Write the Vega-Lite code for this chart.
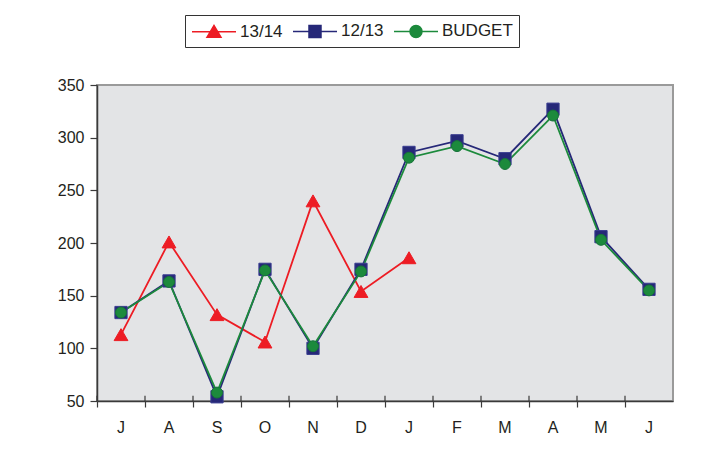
{
  "$schema": "https://vega.github.io/schema/vega-lite/v6.json",
  "width": 576,
  "height": 316,
  "autosize": {"type": "none"},
  "padding": {"left": 97, "top": 85, "right": 29, "bottom": 54},
  "background": "white",
  "config": {
    "font": "Liberation Sans",
    "view": {"fill": "#e3e4e6", "stroke": "#9a9a9a", "strokeWidth": 2},
    "axis": {"labelFont": "Liberation Sans", "labelFontSize": 16, "labelColor": "#231f20", "domainColor": "#3a3a3a", "tickColor": "#3a3a3a", "domainWidth": 1.5, "tickWidth": 1.2, "grid": false, "title": null}
  },
  "data": {
    "values": [
      {"m": "Jul", "s": "13/14", "v": 113},
      {"m": "Aug", "s": "13/14", "v": 201},
      {"m": "Sep", "s": "13/14", "v": 132},
      {"m": "Oct", "s": "13/14", "v": 106},
      {"m": "Nov", "s": "13/14", "v": 240},
      {"m": "Dec", "s": "13/14", "v": 154},
      {"m": "Jan", "s": "13/14", "v": 186},
      {"m": "Jul", "s": "12/13", "v": 134},
      {"m": "Aug", "s": "12/13", "v": 164},
      {"m": "Sep", "s": "12/13", "v": 54},
      {"m": "Oct", "s": "12/13", "v": 175},
      {"m": "Nov", "s": "12/13", "v": 100},
      {"m": "Dec", "s": "12/13", "v": 175},
      {"m": "Jan", "s": "12/13", "v": 286},
      {"m": "Feb", "s": "12/13", "v": 297},
      {"m": "Mar", "s": "12/13", "v": 280},
      {"m": "Apr", "s": "12/13", "v": 327},
      {"m": "May", "s": "12/13", "v": 206},
      {"m": "Jun", "s": "12/13", "v": 156},
      {"m": "Jul", "s": "BUDGET", "v": 134},
      {"m": "Aug", "s": "BUDGET", "v": 163},
      {"m": "Sep", "s": "BUDGET", "v": 58},
      {"m": "Oct", "s": "BUDGET", "v": 174},
      {"m": "Nov", "s": "BUDGET", "v": 102},
      {"m": "Dec", "s": "BUDGET", "v": 173},
      {"m": "Jan", "s": "BUDGET", "v": 281},
      {"m": "Feb", "s": "BUDGET", "v": 292},
      {"m": "Mar", "s": "BUDGET", "v": 275},
      {"m": "Apr", "s": "BUDGET", "v": 321},
      {"m": "May", "s": "BUDGET", "v": 203},
      {"m": "Jun", "s": "BUDGET", "v": 155}
    ]
  },
  "encoding": {
    "x": {
      "field": "m",
      "type": "ordinal",
      "sort": ["Jul", "Aug", "Sep", "Oct", "Nov", "Dec", "Jan", "Feb", "Mar", "Apr", "May", "Jun"],
      "scale": {"type": "band", "paddingInner": 0, "paddingOuter": 0},
      "axis": {"labelExpr": "substring(datum.label, 0, 1)", "labelAngle": 0, "ticks": true, "tickSize": 6, "bandPosition": 0, "labelPadding": 12}
    },
    "y": {
      "field": "v",
      "type": "quantitative",
      "scale": {"domain": [50, 350], "nice": false, "zero": false},
      "axis": {"values": [50, 100, 150, 200, 250, 300, 350], "tickSize": 7, "labelPadding": 6}
    },
    "color": {
      "field": "s",
      "type": "nominal",
      "sort": ["13/14", "12/13", "BUDGET"],
      "scale": {"domain": ["13/14", "12/13", "BUDGET"], "range": ["#ed1c24", "#262878", "#1c8a3c"]},
      "legend": {
        "title": null,
        "orient": "none",
        "legendX": 88,
        "legendY": -70,
        "direction": "horizontal",
        "strokeColor": "#333333",
        "fillColor": "white",
        "padding": 6,
        "labelFontSize": 17,
        "labelFont": "Liberation Sans",
        "labelColor": "#231f20",
        "labelOffset": 29,
        "columnPadding": 7,
        "symbolSize": 324,
        "symbolType": "M-1,0H3.89",
        "symbolStrokeWidth": 1.5,
        "encode": {
          "symbols": {
            "update": {
              "shape": {"signal": "datum.value === '13/14' ? 'M-1,0H3.89M0.66,0.62L1.444,-0.7L2.22,0.62Z' : datum.value === '12/13' ? 'M-1,0H3.89M0.777,-0.667H2.111V0.667H0.777Z' : 'M-1,0H3.89M0.777,0A0.667,0.667 0 1 0 2.111,0A0.667,0.667 0 1 0 0.777,0Z'"},
              "stroke": {"scale": "color", "field": "value"},
              "fill": {"scale": "color", "field": "value"},
              "strokeWidth": {"value": 1.5},
              "opacity": {"value": 1}
            }
          }
        }
      }
    }
  },
  "layer": [
    {
      "transform": [{"filter": "datum.s === '12/13'"}],
      "mark": {"type": "rule", "color": "#3a3a3a", "strokeWidth": 1.2},
      "encoding": {
        "x": {"field": "m", "type": "ordinal", "bandPosition": 0, "sort": ["Jul", "Aug", "Sep", "Oct", "Nov", "Dec", "Jan", "Feb", "Mar", "Apr", "May", "Jun"]},
        "y": {"datum": 50},
        "y2": {"datum": 55},
        "color": {"value": "#3a3a3a"}
      }
    },
    {
      "mark": {"type": "line", "strokeWidth": 1.8}
    },
    {
      "transform": [{"filter": "datum.s === '13/14'"}],
      "mark": {"type": "point", "shape": "triangle-up", "size": 190, "filled": true, "opacity": 1, "stroke": "#ed1c24", "strokeWidth": 1}
    },
    {
      "transform": [{"filter": "datum.s === '12/13'"}],
      "mark": {"type": "point", "shape": "square", "size": 150, "filled": true, "opacity": 1, "stroke": "#3a3d90", "strokeWidth": 1}
    },
    {
      "transform": [{"filter": "datum.s === 'BUDGET'"}],
      "mark": {"type": "point", "shape": "circle", "size": 120, "filled": true, "opacity": 1, "stroke": "#17733a", "strokeWidth": 1}
    }
  ]
}
